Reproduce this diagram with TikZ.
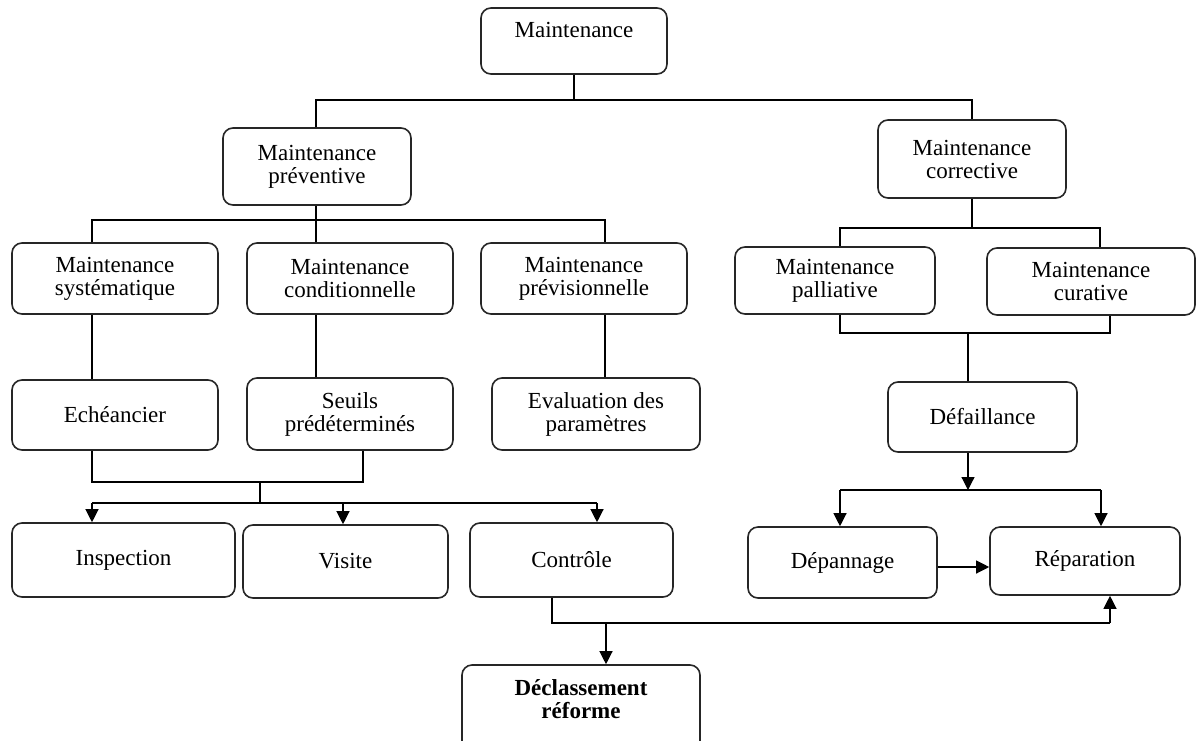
\documentclass[tikz,border=0pt]{standalone}
\usepackage{fontspec}
\setmainfont{Liberation Serif}
\usetikzlibrary{arrows.meta}

\begin{document}
\begin{tikzpicture}[
    x = 0.5pt, y = -0.5pt, % one unit = one pixel of the sketch
    > = {Triangle[length=6.5pt,width=6.5pt]}, % arrow head style
    semithick, % line style
    font = \fontsize{11.5}{11.5}\selectfont
    ]

    \tikzset{box/.style 2 args={
    draw = black!85,
    line width = 0.8pt,
    rounded corners = 5pt,
    fill = white,
    align = center,
    inner sep = 0pt,
    minimum width = #1,
    minimum height = #2
    }}
    \clip (0,0) rectangle (1200,740);

    % first levels
    \node[box={93pt}{33pt}] (m) at (574,41) {Maintenance\\ \mbox{}};
    \node[box={94pt}{38.5pt}] (mp) at (317,166.5) {Maintenance\\préventive};
    \node[box={94pt}{39pt}] (mc) at (972,159) {Maintenance\\corrective};

    \node[box={103pt}{35.5pt}] (ms) at (115,278.5) {Maintenance\\systématique};
    \node[box={103pt}{35.5pt}] (mcd) at (350,278.5) {Maintenance\\conditionnelle};
    \node[box={103pt}{35.5pt}] (mpv) at (584,278.5) {Maintenance\\prévisionnelle};
    \node[box={100pt}{33.5pt}] (pal) at (835,280.5) {Maintenance\\palliative};
    \node[box={104pt}{33.5pt}] (cur) at (1091,281.5) {Maintenance\\curative};

    \node[box={103pt}{35pt}] (ech) at (115,415) {Echéancier};
    \node[box={103pt}{36pt}] (seu) at (350,414) {Seuils\\prédéterminés};
    \node[box={104pt}{36pt}] (eva) at (596,414) {Evaluation des\\paramètres};
    \node[box={94.5pt}{35pt}] (def) at (982.5,417) {Défaillance};

    % last levels
    \node[box={111.5pt}{37pt}] (ins) at (123.5,560) {Inspection};
    \node[box={102.5pt}{36.5pt}] (vis) at (345.5,561.5) {Visite};
    \node[box={101.5pt}{37pt}] (ctr) at (571.5,560) {Contrôle};
    \node[box={94.5pt}{35.5pt}] (dep) at (842.5,562.5) {Dépannage};
    \node[box={95pt}{34pt}] (rep) at (1085,561) {Réparation};
    \node[box={119pt}{45pt}, font=\fontsize{11.5}{11.5}\selectfont\bfseries] (dec) at (581,710) {Déclassement\\réforme\\ \mbox{}};

    % bus points
    \coordinate (b1) at (573,100);
    \coordinate (b2l) at (92,220);
    \coordinate (b2) at (316,220);
    \coordinate (b2r) at (605,220);
    \coordinate (b3) at (260,482);
    \coordinate (b3r) at (363,482);
    \coordinate (b4l) at (92,503);
    \coordinate (b4) at (260,503);
    \coordinate (b4m) at (343,503);
    \coordinate (b4r) at (597,503);
    \coordinate (b5l) at (552,623);
    \coordinate (b5) at (606,623);
    \coordinate (b5r) at (1110,623);
    \coordinate (c1l) at (840,228);
    \coordinate (c1r) at (1100,228);
    \coordinate (c2l) at (840,333);
    \coordinate (c2) at (968,333);
    \coordinate (c2r) at (1110,333);
    \coordinate (c3l) at (840,490);
    \coordinate (c3) at (968,490);
    \coordinate (c3r) at (1101,490);

    % preventive side
    \draw (m.south) -- (m.south |- b1);
    \draw (mp.north -| b2) |- (b1) -| (mc.north);
    \draw (mp.south -| b2) -- (b2);
    \draw (b2l |- ms.north) -- (b2l) -- (b2r) -- (b2r |- mpv.north);
    \draw (b2) -- (b2 |- mcd.north);
    \draw (b2l |- ms.south) -- (b2l |- ech.north);
    \draw (b2 |- mcd.south) -- (b2 |- seu.north);
    \draw (b2r |- mpv.south) -- (b2r |- eva.north);
    \draw (b2l |- ech.south) |- (b3r) -- (b3r |- seu.south);
    \draw (b3) -- (b4);
    \draw (b4l) -- (b4r);
    \draw[->] (b4l) -- (b4l |- ins.north);
    \draw[->] (b4m) -- (b4m |- vis.north);
    \draw[->] (b4r) -- (b4r |- ctr.north);
    \draw (b5l |- ctr.south) -- (b5l) -- (b5r);
    \draw[->] (b5r) -- (b5r |- rep.south);
    \draw[->] (b5) -- (b5 |- dec.north);

    % corrective side
    \draw (mc.south) -- (mc.south |- c1l);
    \draw (c1l |- pal.north) -- (c1l) -- (c1r) -- (c1r |- cur.north);
    \draw (c2l |- pal.south) -- (c2l) -- (c2r) -- (c2r |- cur.south);
    \draw (c2) -- (c2 |- def.north);
    \draw[->] (c2 |- def.south) -- (c3);
    \draw (c3l) -- (c3r);
    \draw[->] (c3l) -- (c3l |- dep.north);
    \draw[->] (c3r) -- (c3r |- rep.north);
    \draw[->] ([yshift=-2.25pt]dep.east) -- ([yshift=-2.25pt]dep.east -| rep.west);
\end{tikzpicture}
\end{document}
